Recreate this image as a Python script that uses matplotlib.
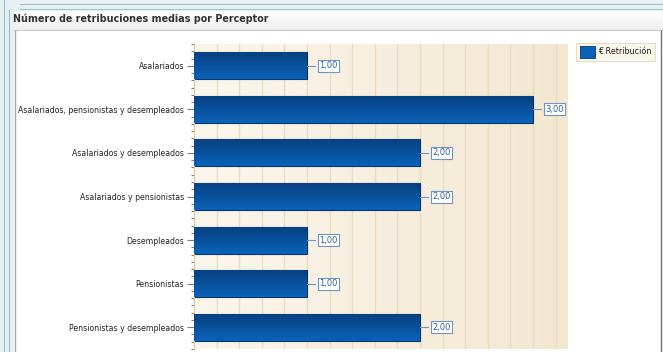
import matplotlib
matplotlib.use("Agg")
import matplotlib.pyplot as plt
import matplotlib.patches as mpatches
from matplotlib.lines import Line2D
import numpy as np

# ---------------------------------------------------------------------------
# Data
# ---------------------------------------------------------------------------
categories = [
    "Asalariados",
    "Asalariados, pensionistas y desempleados",
    "Asalariados y desempleados",
    "Asalariados y pensionistas",
    "Desempleados",
    "Pensionistas",
    "Pensionistas y desempleados",
]
retribucion = [1.00, 3.00, 2.00, 2.00, 1.00, 1.00, 2.00]

TITLE = "Número de retribuciones medias por Perceptor"
SERIES = "€ Retribución"

# Colours
BAR_TOP = "#083f80"
BAR_BOT = "#0a62b8"
BAR_EDGE = "#06356c"
LABEL_BLUE = "#2a5fa8"
GRID = "#eadcc0"
BG_LEFT = "#fbf6ec"
BG_RIGHT = "#f3e7d1"

W, H = 663, 352
fig = plt.figure(figsize=(W / 100, H / 100), dpi=100)
fig.patch.set_facecolor("white")


def px_rect(x0, y0, x1, y1, **kw):
    """Rectangle in figure pixels, y measured from the top."""
    r = mpatches.Rectangle((x0 / W, 1 - y1 / H), (x1 - x0) / W, (y1 - y0) / H,
                           transform=fig.transFigure, **kw)
    fig.patches.append(r)
    return r


def px_line(x0, y0, x1, y1, **kw):
    fig.lines.append(Line2D([x0 / W, x1 / W], [1 - y0 / H, 1 - y1 / H],
                            transform=fig.transFigure, **kw))


# ---------------------------------------------------------------------------
# Window frame
# ---------------------------------------------------------------------------
px_rect(0, 0, W, 11, facecolor="#e8f2f5", edgecolor="none")
px_line(20, 4, W, 4, color="#9cc4cc", lw=0.8)
px_line(20, 9, W, 9, color="#9cc4cc", lw=0.8)
px_rect(0, 0, 14, H, facecolor="#e6f1f5", edgecolor="none")
px_line(4, 0, 4, H, color="#8fbcc6", lw=0.8)
px_line(9, 10, 9, H, color="#8fbcc6", lw=0.8)
# title bar gradient
tb = np.linspace(1, 0, 20).reshape(-1, 1)
fig.figimage(np.dstack([np.interp(tb, [0, 1], [0.93, 1.0])] * 3 + [np.ones_like(tb)])
             .repeat(W - 14, axis=1), xo=14, yo=H - 31, zorder=0)
px_line(14, 30, W, 30, color="#c8c8c8", lw=0.8)
px_line(15, 31, 15, H, color="#b0a89e", lw=1.0)
px_line(W - 2, 31, W - 2, H, color="#707070", lw=1.0)
fig.text(13 / W, 1 - 19 / H, TITLE, fontsize=6.9, fontweight="bold",
         color="#333333", va="center", ha="left")

# ---------------------------------------------------------------------------
# Chart axes
# ---------------------------------------------------------------------------
ax_l, ax_r, ax_t, ax_b = 194, 568, 44, 349
ax = fig.add_axes([ax_l / W, 1 - ax_b / H, (ax_r - ax_l) / W, (ax_b - ax_t) / H])
ax.set_xlim(0, 3.31)
ax.set_ylim(len(categories) - 0.5, -0.5)

# background gradient
grad = np.linspace(0, 1, 256).reshape(1, -1)
bg_cmap = matplotlib.colors.LinearSegmentedColormap.from_list("bg", [BG_LEFT, BG_RIGHT])
ax.imshow(grad, extent=[0, 1, 0, 1], transform=ax.transAxes, aspect="auto",
          cmap=bg_cmap, zorder=0)

for gx in np.arange(0.2, 3.31, 0.2):
    ax.axvline(gx, color=GRID, lw=1.0, zorder=1)

bar_cmap = matplotlib.colors.LinearSegmentedColormap.from_list("bar", [BAR_TOP, BAR_BOT])
bar_h = 0.62
ypos = np.arange(len(categories))
bars = ax.barh(ypos, retribucion, height=bar_h, color=BAR_BOT,
               edgecolor=BAR_EDGE, linewidth=0.8, zorder=2)
vgrad = np.linspace(0, 1, 64).reshape(-1, 1)
for b in bars:
    x0, y0 = b.get_x(), b.get_y()
    im = ax.imshow(vgrad, extent=[x0, x0 + b.get_width(), y0 + b.get_height(), y0],
                   aspect="auto", cmap=bar_cmap, zorder=3)
    im.set_clip_path(b)

# value labels
for y, v in zip(ypos, retribucion):
    ax.plot([v, v + 0.07], [y, y], color="#6f95c6", lw=0.8, zorder=4)
    ax.annotate(f"{v:.2f}".replace(".", ","), xy=(v, y), xytext=(9, 0),
                textcoords="offset points", va="center", ha="left",
                fontsize=6, color=LABEL_BLUE, zorder=5,
                bbox=dict(boxstyle="square,pad=0.18", fc="white",
                          ec="#6f95c6", lw=0.8))

ax.set_yticks(ypos)
ax.set_yticklabels(categories, fontsize=5.6, color="#222222")
ax.set_yticks(np.arange(-0.5, len(categories) - 0.49, 1 / 6), minor=True)
ax.tick_params(axis="y", which="major", length=5, width=0.8, color="#8a7a60", pad=2)
ax.tick_params(axis="y", which="minor", length=2, width=0.8, color="#8a7a60")
ax.set_xticks([])
for side in ("top", "right", "bottom"):
    ax.spines[side].set_visible(False)
ax.spines["left"].set_color("#d8c8a8")

# ---------------------------------------------------------------------------
# Legend
# ---------------------------------------------------------------------------
px_rect(576, 43, 655, 61, facecolor="#fbf6ec", edgecolor="#e6dcc8", lw=0.8)
px_rect(580, 46, 595, 58, facecolor=BAR_BOT, edgecolor=BAR_EDGE, lw=0.6)
fig.text(598 / W, 1 - 52 / H, SERIES, fontsize=5.8, color="#222222",
         va="center", ha="left")

fig.savefig("out.png", dpi=100)
